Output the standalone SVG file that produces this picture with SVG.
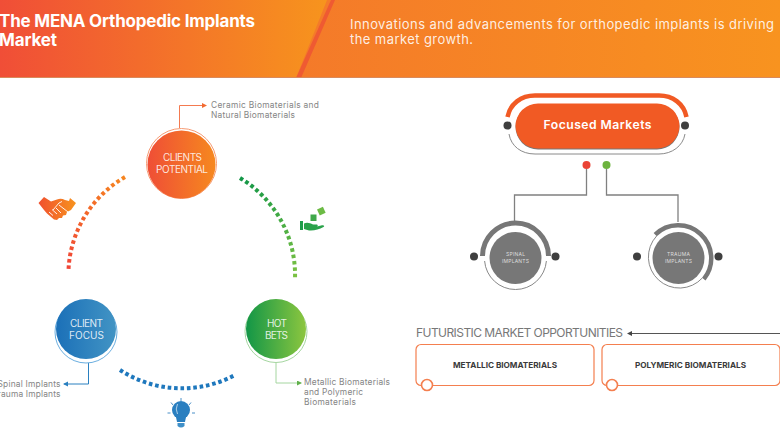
<svg xmlns="http://www.w3.org/2000/svg" width="780" height="440" viewBox="0 0 780 440">
<style>
text{font-family:"Inter","Noto Sans","Liberation Sans",sans-serif}
.nl{font-size:10px;fill:#fff;fill-opacity:.85;text-anchor:middle}
.lb{font-size:8.400px;fill:#858585}
.sm{font-size:5px;fill:#ddd;text-anchor:middle}
.dk{fill:#3f3f3f}
.tl{font-size:8.200px;font-weight:700;fill:#3a3a3a;text-anchor:middle}
.box{fill:#fff;stroke:#f47f4f;stroke-width:1.2}
.ring{fill:#fff;stroke:#f47f4f;stroke-width:1.600}
.dot{fill:none;stroke-width:4;stroke-dasharray:3.600 2.800}
.gl{fill:none;stroke:#808080;stroke-width:1.300}
</style>
<defs>
<linearGradient id="h1"><stop offset="0" stop-color="#f04e37"/><stop offset="1" stop-color="#f7941d"/></linearGradient>
<linearGradient id="h2"><stop offset="0" stop-color="#f26a30"/><stop offset="1" stop-color="#f8931f"/></linearGradient>
<linearGradient id="cO"><stop offset="0" stop-color="#ef4e36"/><stop offset="1" stop-color="#f6881f"/></linearGradient>
<linearGradient id="cB"><stop offset="0" stop-color="#1b70b8"/><stop offset="1" stop-color="#4294c4"/></linearGradient>
<linearGradient id="cG"><stop offset="0" stop-color="#129647"/><stop offset="1" stop-color="#8cc63f"/></linearGradient>
<linearGradient id="aO" gradientUnits="userSpaceOnUse" x1="125" y1="177" x2="68" y2="270"><stop offset="0" stop-color="#f6851f"/><stop offset="1" stop-color="#f04437"/></linearGradient>
<linearGradient id="aG" gradientUnits="userSpaceOnUse" x1="240" y1="178" x2="295" y2="279"><stop offset="0" stop-color="#129647"/><stop offset="1" stop-color="#7cc242"/></linearGradient>
<linearGradient id="iH"><stop offset="0" stop-color="#f0502f"/><stop offset="1" stop-color="#f7931e"/></linearGradient>
<marker id="mO" markerWidth="6" markerHeight="6" refX="4" refY="2.500" orient="auto"><path d="M0 0L5 2.500L0 5z" fill="#f26a30"/></marker>
<marker id="mB" markerWidth="6" markerHeight="6" refX="4" refY="2.500" orient="auto"><path d="M0 0L5 2.500L0 5z" fill="#2a80c0"/></marker>
<marker id="mG" markerWidth="6" markerHeight="6" refX="4" refY="2.500" orient="auto"><path d="M0 0L5 2.500L0 5z" fill="#5fb04a"/></marker>
<marker id="mK" markerWidth="6" markerHeight="6" refX="4" refY="2.500" orient="auto"><path d="M0 0L5 2.500L0 5z" fill="#444"/></marker>
</defs>

<g id="header">
<rect width="780" height="78" fill="url(#h2)"/>
<path d="M0 0H327L296 78H0z" fill="url(#h1)"/>
<path d="M331 0H335L301 78H296z" fill="#ef5a32"/>
<rect y="77" width="780" height="1" fill="#d98a5c"/>
<text x="-1" y="27" font-size="17" font-weight="700" fill="#fff" textLength="256">The MENA Orthopedic Implants</text>
<text x="-1" y="46" font-size="17" font-weight="700" fill="#fff" textLength="58">Market</text>
<text x="350" y="29" font-size="13" fill="#fff" fill-opacity=".88" textLength="424">Innovations and advancements for orthopedic implants is driving</text>
<text x="350" y="44" font-size="13" fill="#fff" fill-opacity=".88" textLength="123">the market growth.</text>
</g>

<g id="connectors">
<path class="dot" stroke="url(#aO)" d="M125 177A113 113 0 0 0 68.500 270"/>
<path class="dot" stroke="url(#aG)" d="M240 178A113 113 0 0 1 295 279"/>
<path class="dot" stroke="#1f78bd" d="M120 370A113 113 0 0 0 235 375"/>
<path d="M179.500 128V105.500H206" fill="none" stroke="#f47a50" stroke-width="1" marker-end="url(#mO)"/>
<path d="M88.500 363V384H64" fill="none" stroke="#2a80c0" stroke-width="1" marker-end="url(#mB)"/>
<path d="M276 363V383H301" fill="none" stroke="#a5d6a0" stroke-width="1" marker-end="url(#mG)"/>
<path class="gl" d="M586.500 169V195H514.500V222"/>
<path class="gl" d="M606.500 169V195H678V222"/>
<path d="M780 333.500H628" fill="none" stroke="#555" stroke-width="1" marker-end="url(#mK)"/>
</g>

<g id="clients-potential">
<circle cx="181.500" cy="163.500" r="35" fill="none" stroke="#f79a72" stroke-width="1"/>
<circle cx="181.500" cy="164.500" r="34" fill="url(#cO)"/>
<text class="nl" x="182.500" y="160.500" textLength="39">CLIENTS</text>
<text class="nl" x="182" y="173" textLength="52">POTENTIAL</text>
<text class="lb" x="211" y="108" textLength="108">Ceramic Biomaterials and</text>
<text class="lb" x="211" y="118" textLength="84">Natural Biomaterials</text>
</g>

<g id="client-focus">
<circle cx="86" cy="332" r="31" fill="none" stroke="#6aaee0" stroke-width="1"/>
<circle cx="86" cy="329" r="30" fill="url(#cB)"/>
<text class="nl" x="86.500" y="326.500" textLength="33">CLIENT</text>
<text class="nl" x="86.500" y="339" textLength="35">FOCUS</text>
<text class="lb" x="60.500" y="387" text-anchor="end" textLength="63">Spinal Implants</text>
<text class="lb" x="60.500" y="397" text-anchor="end" textLength="68">Trauma Implants</text>
</g>

<g id="hot-bets">
<circle cx="276" cy="331.500" r="31" fill="none" stroke="#a5d6a0" stroke-width="1"/>
<circle cx="276" cy="329" r="30" fill="url(#cG)"/>
<text class="nl" x="277" y="326.500" textLength="20">HOT</text>
<text class="nl" x="276.500" y="339" textLength="23">BETS</text>
<text class="lb" x="304" y="385" textLength="86">Metallic Biomaterials</text>
<text class="lb" x="304" y="395" textLength="59">and Polymeric</text>
<text class="lb" x="304" y="405" textLength="52">Biomaterials</text>
</g>

<g id="icon-handshake">
<path d="M38.500 203L44 197L51 201.500L57 199.500Q61 198 65 200L69 201L70 198L76 203L71 210L67 212L66 215L63 215.500L62 218L59 218L57 220L54 219.500L47 213.500L44 210z" fill="url(#iH)"/>
<path d="M53 210L59 203L62 201.500M59 205L68 212M49 212L53 215.500M52 209.500L57 214M56 208L61 213" fill="none" stroke="#fff" stroke-width=".9"/>
</g>

<g id="icon-plant">
<path d="M300 221H303V230H300z" fill="#1f9e4a"/>
<path d="M304 223.500C307 222 310 223 313 224.500H317C318 225 318 226 317 226.500L321 225.500C324 224.500 325 226 323.500 227C319 229.500 314 231 309 230.500L304 229z" fill="#2aa24a"/>
<rect x="310.500" y="214.500" width="6" height="6.500" fill="#3fa84a"/>
<rect x="318" y="208" width="6.500" height="6.500" fill="#6cbb45" transform="rotate(-25 321 211)"/>
</g>

<g id="icon-bulb">
<circle cx="181" cy="410" r="9" fill="#2a7fc0"/>
<path d="M176 417H186L185 422H177z" fill="#2a7fc0"/>
<path d="M177.500 423H184.500V426Q181 429 177.500 426z" fill="#3f8fc8"/>
<path d="M177.500 404Q175 409 177.500 414" fill="none" stroke="#cfe4f4" stroke-width=".8"/>
<path d="M181 398V401M171 402.500L173 405M191 402.500L189 405M167.500 413H170.500M192 413H195" fill="none" stroke="#4a90c8" stroke-width="1"/>
</g>

<g id="focused-markets">
<path d="M507.500 117C510 104 521 95.500 535 95.500H659C673 95.500 684 104 686.500 117" fill="none" stroke="#f15a24" stroke-width="4.500"/>
<path d="M509 134C511 146 521 154 535 154H659C672 154 683 146 685 134" fill="none" stroke="#8a8a8a" stroke-width="1"/>
<rect x="515.500" y="104.500" width="164" height="45" rx="22.500" fill="#777"/>
<rect x="515.500" y="103.500" width="164" height="45" rx="22.500" fill="#f15a24"/>
<text x="597.500" y="129" font-size="12.200" font-weight="600" fill="#fff" text-anchor="middle" textLength="108">Focused Markets</text>
<circle class="dk" cx="507.500" cy="125.500" r="4"/>
<circle class="dk" cx="685" cy="125.500" r="4"/>
<circle cx="586.500" cy="165" r="4" fill="#ea4335"/>
<circle cx="606.500" cy="165" r="4" fill="#6db33f"/>
</g>

<g id="spinal-implants">
<path d="M482.500 256A33 33 0 0 1 548.500 256" fill="none" stroke="#777" stroke-width="5"/>
<path d="M546.400 261A31 31 0 0 1 484.600 261" fill="none" stroke="#888" stroke-width="1"/>
<circle cx="515.500" cy="258" r="26" fill="#777"/>
<text class="sm" x="515.500" y="256" textLength="19">SPINAL</text>
<text class="sm" x="515.500" y="263" textLength="27">IMPLANTS</text>
<circle class="dk" cx="474" cy="256.500" r="4"/>
<circle class="dk" cx="555.500" cy="256.500" r="4"/>
</g>

<g id="trauma-implants">
<path d="M655.200 234.700A33 33 0 0 1 703.800 279.200" fill="none" stroke="#777" stroke-width="4.500"/>
<path d="M702.300 278A31 31 0 1 1 656.600 236" fill="none" stroke="#888" stroke-width="1"/>
<circle cx="678.500" cy="258" r="26" fill="#777"/>
<text class="sm" x="678.500" y="256" textLength="23">TRAUMA</text>
<text class="sm" x="678.500" y="263" textLength="27">IMPLANTS</text>
<circle class="dk" cx="637" cy="256.500" r="4"/>
<circle class="dk" cx="718.500" cy="256.500" r="4"/>
</g>

<g id="futuristic-title">
<text x="416" y="337" font-size="12" fill="#777" textLength="207">FUTURISTIC MARKET OPPORTUNITIES</text>
</g>

<g id="metallic-biomaterials">
<rect class="box" x="416" y="344.500" width="178" height="41" rx="5"/>
<circle class="ring" cx="427" cy="385" r="5.500"/>
<text class="tl" x="505" y="367.500" textLength="104">METALLIC BIOMATERIALS</text>
</g>

<g id="polymeric-biomaterials">
<rect class="box" x="602" y="344.500" width="178" height="41" rx="5"/>
<circle class="ring" cx="612" cy="385" r="5.500"/>
<text class="tl" x="690.500" y="367.500" textLength="111">POLYMERIC BIOMATERIALS</text>
</g>
</svg>
